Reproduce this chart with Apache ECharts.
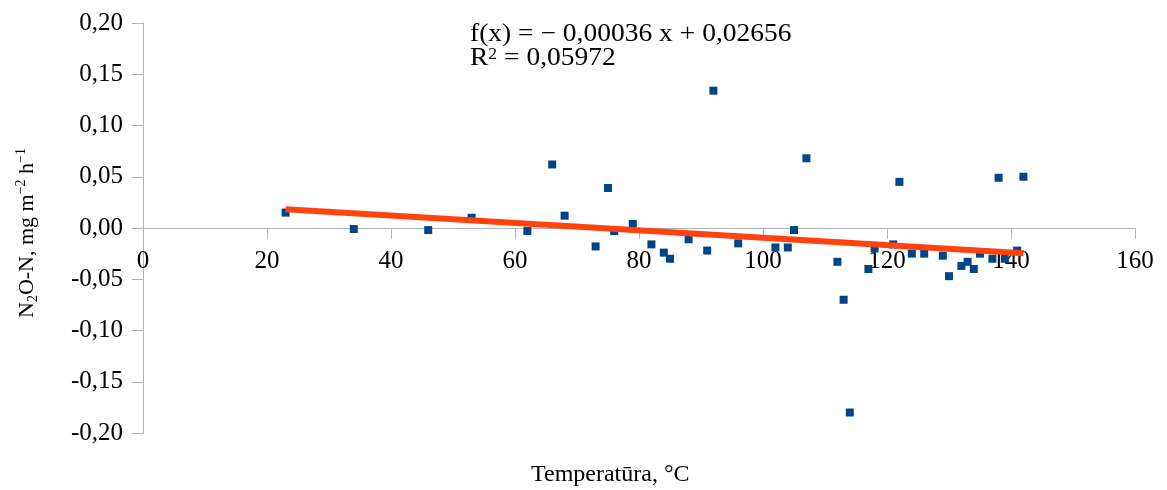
<!DOCTYPE html>
<html>
<head>
<meta charset="utf-8">
<script src="https://cdn.jsdelivr.net/npm/echarts@6/dist/echarts.min.js"></script>
<style>html,body{margin:0;padding:0;background:#fff;}#c{width:1167px;height:490px;}</style>
</head>
<body>
<div id="c"></div>
<script>
const temperatures = [23,34,46,53,62,66,68,73,75,76,79,82,84,85,88,91,92,96,102,104,105,107,112,113,114,117,118,121,122,124,126,129,130,132,133,134,135,137,138,139,141,142];
const n2oFlux = [0.015,-0.001,-0.002,0.010,-0.003,0.062,0.012,-0.018,0.039,-0.003,0.004,-0.016,-0.024,-0.030,-0.011,-0.022,0.134,-0.015,-0.019,-0.019,-0.002,0.068,-0.033,-0.070,-0.180,-0.040,-0.020,-0.016,0.045,-0.025,-0.025,-0.027,-0.047,-0.037,-0.033,-0.040,-0.025,-0.030,0.049,-0.030,-0.022,0.050];
const trendSlope = -0.00036;
const trendIntercept = 0.02656;
const rSquared = '0,05972';
const xTicks = {min: 0, max: 160, interval: 20};
const yTicks = {min: -0.2, max: 0.2, interval: 0.05};

const FONT = 'Liberation Serif';
const GRID_TOP = 23, GRID_BOTTOM = 57, H = 490;
const points = temperatures.map((t, i) => [t, n2oFlux[i]]);
const xMin = Math.min(...temperatures), xMax = Math.max(...temperatures);
const trend = [[xMin, trendSlope * xMin + trendIntercept], [xMax, trendSlope * xMax + trendIntercept]];
const fmt = (v) => (v < 0 ? '-' : '') + Math.abs(v).toFixed(2).replace('.', ',');
const slopeTxt = Math.abs(trendSlope).toFixed(5).replace('.', ',');
const interTxt = trendIntercept.toFixed(5).replace('.', ',');
// place x axis at y = 0 (offset from grid bottom)
const gridH = H - GRID_TOP - GRID_BOTTOM;
const zeroOffset = -gridH * (0 - yTicks.min) / (yTicks.max - yTicks.min);

const chart = echarts.init(document.getElementById('c'), null, {renderer: 'canvas'});
chart.setOption({
  animation: false,
  backgroundColor: '#ffffff',
  grid: {left: 143, right: 32, top: GRID_TOP, bottom: GRID_BOTTOM, containLabel: false},
  xAxis: {
    type: 'value', min: xTicks.min, max: xTicks.max, interval: xTicks.interval,
    position: 'bottom', offset: zeroOffset,
    axisLine: {onZero: false, lineStyle: {color: '#b3b3b3', width: 1}},
    axisTick: {show: true, inside: false, length: 11, lineStyle: {color: '#b3b3b3'}},
    axisLabel: {margin: 21, color: '#000', fontFamily: FONT, fontSize: 25},
    splitLine: {show: false}
  },
  yAxis: {
    type: 'value', min: yTicks.min, max: yTicks.max, interval: yTicks.interval,
    axisLine: {show: true, lineStyle: {color: '#b3b3b3', width: 1}},
    axisTick: {show: true, inside: false, length: 11, lineStyle: {color: '#b3b3b3'}},
    axisLabel: {margin: 20, color: '#000', fontFamily: FONT, fontSize: 25, formatter: fmt},
    splitLine: {show: false},
    name: 'N{sub|2}O-N, mg m{sup|−2} h{sup|−1}',
    nameLocation: 'middle', nameGap: 103, nameRotate: 90,
    nameTextStyle: {
      color: '#000', fontFamily: FONT, fontSize: 22, lineHeight: 26, padding: [0, 10, 0, 0],
      rich: {
        sub: {fontFamily: FONT, fontSize: 14, lineHeight: 26, verticalAlign: 'bottom'},
        sup: {fontFamily: FONT, fontSize: 14, lineHeight: 26, verticalAlign: 'top'}
      }
    }
  },
  graphic: [
    {type: 'text', left: 531, top: 463, style: {text: 'Temperatūra, °C', fontFamily: FONT, fontSize: 24, fill: '#000'}},
    {type: 'text', left: 470, top: 22, scaleX: 1.1, style: {
      text: 'f(x) = − ' + slopeTxt + ' x + ' + interTxt + '\nR{sup|2} = ' + rSquared,
      fontFamily: FONT, fontSize: 25, lineHeight: 24, fill: '#000',
      rich: {sup: {fontFamily: FONT, fontSize: 16, lineHeight: 24, verticalAlign: 'top', fill: '#000'}}
    }}
  ],
  series: [
    {type: 'scatter', data: points, symbol: 'rect', symbolSize: 8, itemStyle: {color: '#004586', opacity: 1}, z: 2},
    {type: 'line', data: trend, showSymbol: false, symbol: 'none', lineStyle: {color: '#ff420e', width: 6}, z: 3}
  ]
});
</script>
</body>
</html>
